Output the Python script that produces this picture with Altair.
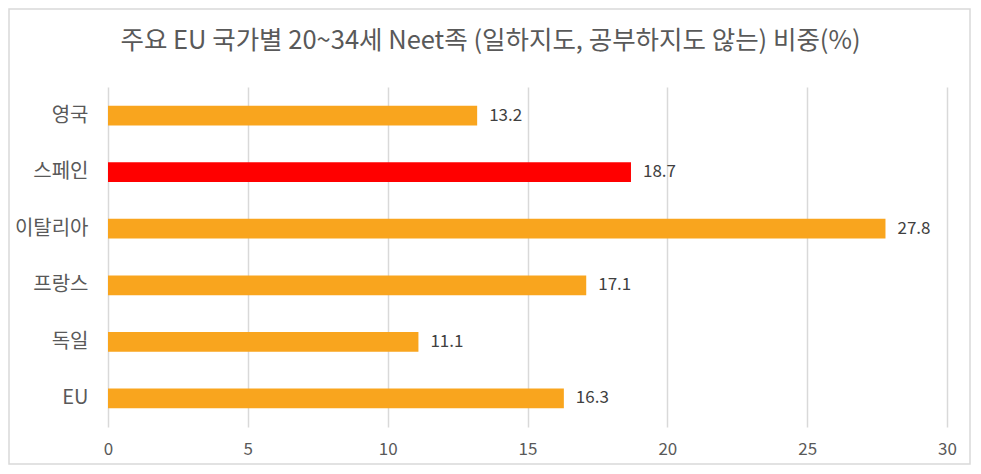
import altair as alt
import pandas as pd

countries = ["영국", "스페인", "이탈리아", "프랑스", "독일", "EU"]
values = [13.2, 18.7, 27.8, 17.1, 11.1, 16.3]
colors = ["#F9A51E", "#FF0000", "#F9A51E", "#F9A51E", "#F9A51E", "#F9A51E"]
title_text = "주요 EU 국가별 20~34세 Neet족 (일하지도, 공부하지도 않는) 비중(%)"

df = pd.DataFrame({"country": countries, "value": values, "color": colors,
                   "label": [f"{v:.1f}" for v in values]})

W, H = 839, 340
PL, PT, PR, PB = 100, 79, 24, 38
FONT = "Noto Sans CJK KR"

y_enc = alt.Y("country:N", sort=countries, title=None,
              scale=alt.Scale(paddingInner=0.65, paddingOuter=0.33),
              axis=alt.Axis(ticks=False, domain=False, labelPadding=20,
                            labelFontSize=20, labelColor="#595959", labelFont=FONT))
x_enc = alt.X("value:Q", title=None,
              scale=alt.Scale(domain=[0, 30], nice=False),
              axis=alt.Axis(values=[0, 5, 10, 15, 20, 25, 30], ticks=False, domain=False,
                            grid=True, gridColor="#D9D9D9", gridWidth=1.5, labelFlush=False,
                            labelPadding=14, labelFontSize=17, labelColor="#595959",
                            labelFont=FONT))

bars = alt.Chart(df).mark_bar().encode(
    y=y_enc, x=x_enc, color=alt.Color("color:N", scale=None)
)
texts = alt.Chart(df).mark_text(align="left", dx=12, fontSize=17, color="#404040", font=FONT).encode(
    y=alt.Y("country:N", sort=countries), x="value:Q", text="label:N"
)
border = alt.Chart(pd.DataFrame({"a": [0]})).mark_rect(
    fill=None, stroke="#D9D9D9", strokeWidth=1.5
).encode(
    x=alt.value(-PL + 1), x2=alt.value(W + PR - 1),
    y=alt.value(-PT + 1), y2=alt.value(H + PB - 1)
)

chart = alt.layer(border, bars, texts).properties(
    width=W, height=H,
    padding={"left": PL, "top": PT, "right": PR, "bottom": PB},
    autosize=alt.AutoSizeParams(type="none"),
    title=alt.TitleParams(title_text, fontSize=25.5, font=FONT, fontWeight="normal",
                          color="#595959", anchor="middle", frame="group",
                          offset=-46, dx=-37)
).configure_view(stroke=None)

chart.save("out.html", embed_options={"renderer": "svg", "actions": False})
